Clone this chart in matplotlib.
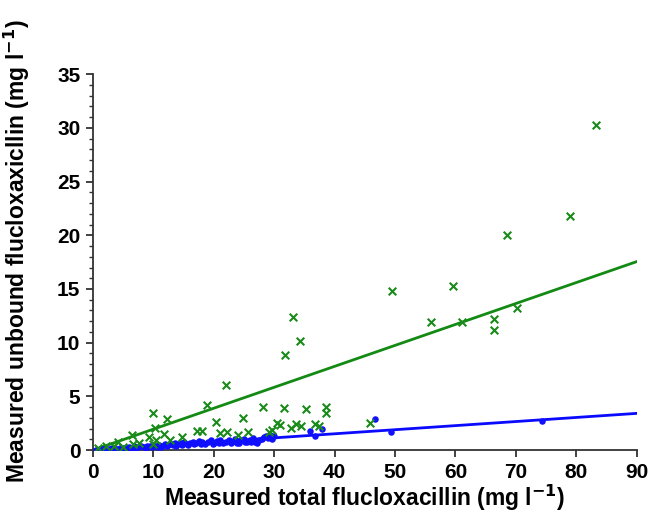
import matplotlib
matplotlib.use("Agg")
import matplotlib.pyplot as plt
from matplotlib.ticker import MultipleLocator

# Unbound vs total (green crosses)
green_x = [83.2, 79.0, 68.6, 59.6, 49.5, 33.1, 34.3, 31.7, 56.0, 61.0, 66.4, 66.4, 70.1,
           22.0, 18.8, 9.9, 12.3, 10.3, 11.7, 6.4, 20.4, 24.8, 28.2, 31.6, 35.3, 38.6, 38.6,
           45.8, 17.3, 18.0, 21.0, 22.1, 25.6, 24.0, 29.7, 30.4, 30.9, 32.7, 33.6, 34.4,
           36.7, 37.4, 29.1, 9.2, 10.4, 7.7, 4.2, 6.7, 3.5, 2.1, 0.8, 14.7, 10.0, 5.0, 12.8]
green_y = [30.3, 21.8, 20.0, 15.3, 14.8, 12.4, 10.2, 8.9, 11.9, 11.9, 12.2, 11.2, 13.2,
           6.1, 4.2, 3.5, 2.9, 2.1, 1.46, 1.4, 2.6, 2.95, 4.0, 3.9, 3.8, 3.97, 3.47,
           2.55, 1.8, 1.8, 1.55, 1.7, 1.7, 1.4, 1.86, 2.55, 2.3, 2.1, 2.4, 2.2,
           2.4, 2.2, 1.7, 1.2, 0.93, 0.62, 0.77, 0.6, 0.4, 0.35, 0.2, 1.2, 0.6, 0.3, 0.9]

# Blue dots
blue_x = [0.5, 1.0, 1.5, 2.0, 2.5, 3.0, 3.5, 4.0, 4.5, 5.0, 5.5, 6.0, 6.5, 7.0, 7.5, 8.0,
          8.5, 9.0, 9.5, 10.0, 10.5, 11.0, 11.5, 12.0, 12.5, 13.0, 13.5, 14.0, 14.5, 15.0,
          15.5, 16.0, 16.5, 17.0, 17.5, 18.0, 19.0, 19.5, 20.0, 20.5, 21.0, 22.0, 22.5,
          23.0, 23.5, 24.0, 24.5, 25.0, 25.5, 26.0, 26.5, 27.0, 27.5, 28.0, 28.3, 28.6,
          29.0, 29.3, 30.0, 36.0, 36.8, 37.9, 46.7, 49.3, 74.3, 3.2, 6.8, 9.8, 13.2, 16.8,
          21.5, 24.2, 26.8, 11.2, 18.5, 1.8, 4.8, 7.2, 8.8, 10.8, 12.2, 14.8, 15.8, 17.8,
          19.8, 20.8, 22.8, 23.8, 25.2, 26.2, 27.2, 29.6, 5.8, 2.8, 13.8]
blue_y = [0.02, 0.05, 0.06, 0.08, 0.1, 0.1, 0.15, 0.12, 0.2, 0.18, 0.22, 0.25, 0.2, 0.3,
          0.28, 0.35, 0.3, 0.4, 0.35, 0.45, 0.4, 0.5, 0.42, 0.55, 0.48, 0.6, 0.7, 0.55,
          0.65, 0.75, 0.6, 0.7, 0.8, 0.65, 0.85, 0.75, 0.8, 0.9, 0.7, 0.85, 0.95, 0.8,
          0.9, 0.75, 1.0, 0.85, 0.95, 1.05, 0.8, 0.9, 1.1, 0.85, 0.95, 1.0, 1.2, 1.35,
          1.1, 1.45, 1.3, 1.8, 1.34, 2.0, 2.85, 1.7, 2.7, 0.2, 0.35, 0.25, 0.45, 0.55,
          0.65, 0.7, 0.75, 0.3, 0.6, 0.12, 0.1, 0.18, 0.22, 0.3, 0.35, 0.45, 0.5, 0.55,
          0.6, 0.62, 0.68, 0.7, 0.72, 0.78, 0.7, 1.0, 0.12, 0.06, 0.4]

# Fitted lines (slopes)
green_slope = 0.195
blue_slope = 0.038
line_x = [0, 90]

plt.rcParams['font.family'] = ['Liberation Sans', 'DejaVu Sans']

fig = plt.figure(figsize=(6.52, 5.15), dpi=100)
ax = fig.add_axes([0.1426, 0.126, 0.834, 0.730])

ax.scatter(blue_x, blue_y, s=22, color='#1010ff', marker='o', zorder=3, linewidths=0)
ax.scatter(green_x, green_y, s=30, color='#1a8a1a', marker='x', zorder=4, linewidths=1.5)
ax.plot(line_x, [green_slope * v for v in line_x], color='#138a13', lw=2.0, zorder=2)
ax.plot(line_x, [blue_slope * v for v in line_x], color='#0a0aff', lw=2.0, zorder=2)

ax.set_xlim(0, 90)
ax.set_ylim(0, 35)
ax.xaxis.set_major_locator(MultipleLocator(10))
ax.yaxis.set_major_locator(MultipleLocator(5))
ax.yaxis.set_minor_locator(MultipleLocator(1))
for s in ['top', 'right']:
    ax.spines[s].set_visible(False)
for s in ['left', 'bottom']:
    ax.spines[s].set_linewidth(1.3)
    ax.spines[s].set_color('#333333')
ax.tick_params(axis='both', which='major', direction='out', length=5, width=1.3,
               labelsize=15, color='#333333', pad=4)
ax.tick_params(axis='y', which='minor', direction='out', length=3, width=1.0, color='#333333')
for lab in ax.get_xticklabels() + ax.get_yticklabels():
    lab.set_fontweight('bold')

ax.set_xlabel('Measured total flucloxacillin (mg l$^{\\mathbf{-1}}$)', fontsize=16.5,
              fontweight='bold', labelpad=1)
ax.set_ylabel('Measured unbound flucloxaxicllin (mg l$^{\\mathbf{-1}}$)', fontsize=16.5,
              fontweight='bold')
ax.yaxis.set_label_coords(-0.112, 0.53)

fig.savefig('out.png', dpi=100)
